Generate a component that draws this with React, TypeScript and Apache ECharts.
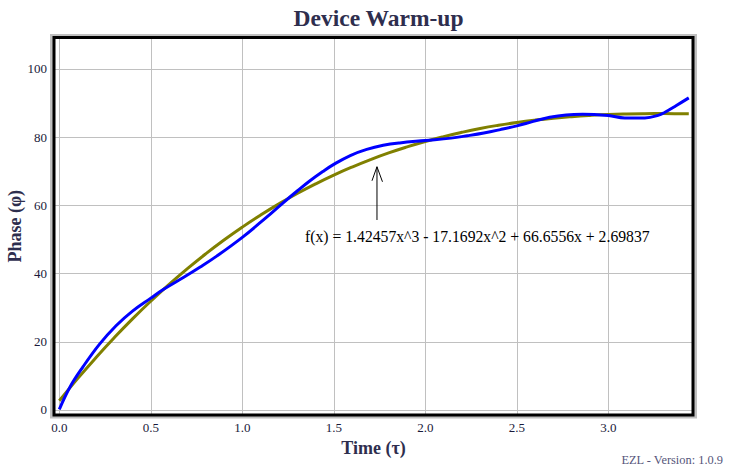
import React, { useEffect, useRef } from "react";
import * as echarts from "echarts";

const timeValues = [0.0, 0.06, 0.13, 0.22, 0.31, 0.4, 0.5, 0.57, 0.68, 0.77, 0.86, 1.0, 1.13, 1.22, 1.3, 1.37, 1.44, 1.5, 1.59, 1.68, 1.77, 1.86, 2.0, 2.14, 2.23, 2.32, 2.41, 2.5, 2.59, 2.68, 2.77, 2.86, 3.0, 3.09, 3.2, 3.28, 3.31, 3.37, 3.44];
const phaseValues = [0.2, 6.9, 12.7, 19.3, 24.7, 29.0, 32.8, 35.4, 38.9, 41.9, 45.1, 50.6, 56.4, 60.6, 64.2, 67.2, 69.9, 72.0, 74.6, 76.4, 77.6, 78.3, 79.0, 79.7, 80.4, 81.2, 82.2, 83.3, 84.6, 85.8, 86.5, 86.7, 86.3, 85.6, 85.6, 86.5, 87.3, 89.2, 91.5];

// Cubic fit curve values
const fitTime = [0.0, 0.1, 0.2, 0.3, 0.4, 0.5, 0.6, 0.7, 0.8, 0.9, 1.0, 1.1, 1.2, 1.3, 1.4, 1.5, 1.6, 1.7, 1.8, 1.9, 2.0, 2.1, 2.2, 2.3, 2.4, 2.5, 2.6, 2.7, 2.8, 2.9, 3.0, 3.1, 3.2, 3.3, 3.4, 3.44];
const fitPhase = [2.7, 9.19, 15.35, 21.19, 26.71, 31.91, 36.82, 41.43, 45.76, 49.82, 53.61, 57.14, 60.42, 63.47, 66.27, 68.86, 71.23, 73.39, 75.36, 77.13, 78.73, 80.15, 81.41, 82.52, 83.47, 84.29, 84.98, 85.55, 86.0, 86.35, 86.61, 86.77, 86.86, 86.89, 86.84, 86.81];

const xRange = [-0.029, 3.463];
const yRange = [-1.47, 109.2];
const xTickStep = 0.5;
const yTickStep = 20;

const titleText = "Device Warm-up";
const xAxisName = "Time (τ)";
const yAxisName = "Phase (φ)";
const fitLabel = "f(x) = 1.42457x^3 - 17.1692x^2 + 66.6556x + 2.69837";
const footerText = "EZL - Version: 1.0.9";
const arrowAt = [1.736, 55.7, 71.3]; // x, tail y, tip y
const labelAt = [1.343, 50.8];

const SERIF = "'Liberation Serif', 'Times New Roman', serif";
const NAVY = "#2e2e4e";

export default function App() {
  const ref = useRef<HTMLDivElement>(null);
  useEffect(() => {
    const chart = echarts.init(ref.current!, null, { renderer: "svg" });
    const G = { left: 54, top: 37.5, right: 42, bottom: 60 };
    const W = 735, H = 475;
    chart.setOption({
      animation: false,
      backgroundColor: "#ffffff",
      title: {
        text: titleText,
        left: 373.5,
        top: 1,
        textAlign: "center",
        textStyle: { fontFamily: SERIF, fontSize: 23.5, fontWeight: "bold", color: NAVY },
      },
      grid: {
        left: G.left,
        top: G.top,
        right: G.right,
        bottom: G.bottom,
        containLabel: false,
        outerBoundsMode: "none",
      },
      xAxis: {
        type: "value",
        min: xRange[0],
        max: xRange[1],
        minInterval: xTickStep,
        maxInterval: xTickStep,
        splitNumber: 7,
        name: xAxisName,
        nameLocation: "middle",
        nameGap: 24,
        nameMoveOverlap: false,
        nameTextStyle: { fontFamily: SERIF, fontSize: 18, fontWeight: "bold", color: NAVY },
        axisLine: { show: false },
        axisTick: { show: true, length: 5, lineStyle: { color: "#c0c0c0" } },
        splitLine: { show: true, lineStyle: { color: "#c0c0c0", width: 1 } },
        axisLabel: {
          showMinLabel: false,
          showMaxLabel: false,
          margin: 6,
          fontFamily: SERIF,
          fontSize: 13,
          color: "#1a1a3a",
          formatter: (v: number) => v.toFixed(1),
        },
      },
      yAxis: {
        type: "value",
        min: yRange[0],
        max: yRange[1],
        minInterval: yTickStep,
        maxInterval: yTickStep,
        splitNumber: 6,
        name: yAxisName,
        nameLocation: "middle",
        nameGap: 30,
        nameMoveOverlap: false,
        nameTextStyle: { fontFamily: SERIF, fontSize: 18, fontWeight: "bold", color: NAVY },
        axisLine: { show: false },
        axisTick: { show: true, length: 5, lineStyle: { color: "#c0c0c0" } },
        splitLine: { show: true, lineStyle: { color: "#c0c0c0", width: 1 } },
        axisLabel: {
          showMinLabel: false,
          showMaxLabel: false,
          margin: 7,
          fontFamily: SERIF,
          fontSize: 13,
          color: "#1a1a3a",
          formatter: (v: number) => String(Math.round(v)),
        },
      },
      series: [
        {
          name: "Fit",
          type: "line",
          data: fitTime.map((t, i) => [t, fitPhase[i]]),
          showSymbol: false,
          smooth: true,
          lineStyle: { color: "#808000", width: 3 },
          z: 3,
        },
        {
          name: "Phase",
          type: "line",
          data: timeValues.map((t, i) => [t, phaseValues[i]]),
          showSymbol: false,
          smooth: 0.4,
          lineStyle: { color: "#0000ff", width: 3 },
          z: 4,
        },
      ],
    });

    const tail = chart.convertToPixel({ gridIndex: 0 }, [arrowAt[0], arrowAt[1]]) as number[];
    const tip = chart.convertToPixel({ gridIndex: 0 }, [arrowAt[0], arrowAt[2]]) as number[];
    const lab = chart.convertToPixel({ gridIndex: 0 }, labelAt) as number[];
    const gw = W - G.left - G.right;
    const gh = H - G.top - G.bottom;

    chart.setOption({
      graphic: [
        {
          type: "rect",
          z: -20,
          silent: true,
          shape: { x: G.left - 4, y: G.top - 3.5, width: gw + 8, height: gh + 7 },
          style: { fill: "#c0c0c0" },
        },
        {
          type: "rect",
          z: -19,
          silent: true,
          shape: { x: G.left, y: G.top, width: gw, height: gh },
          style: { fill: "#ffffff" },
        },
        {
          type: "rect",
          z: 100,
          silent: true,
          shape: { x: G.left, y: G.top, width: gw, height: gh },
          style: { fill: "none", stroke: "#000000", lineWidth: 3 },
        },
        {
          type: "line",
          z: 50,
          shape: { x1: tail[0], y1: tail[1], x2: tip[0], y2: tip[1] },
          style: { stroke: "#000000", lineWidth: 1 },
        },
        {
          type: "polyline",
          z: 50,
          shape: { points: [[tip[0] - 5, tip[1] + 14], [tip[0], tip[1]], [tip[0] + 5.5, tip[1] + 15]] },
          style: { stroke: "#000000", lineWidth: 1, fill: "none" },
        },
        {
          type: "text",
          z: 50,
          x: lab[0],
          y: lab[1],
          style: {
            text: fitLabel,
            fontFamily: SERIF,
            fontSize: 15.7,
            fill: "#000000",
            textAlign: "left",
            textVerticalAlign: "middle",
          },
        },
        {
          type: "text",
          z: 50,
          x: 723,
          y: 459.5,
          style: {
            text: footerText,
            fontFamily: SERIF,
            fontSize: 12.4,
            fill: "#55557a",
            textAlign: "right",
            textVerticalAlign: "middle",
          },
        },
      ],
    });
    return () => chart.dispose();
  }, []);
  return (
    <div
      ref={ref}
      style={{ position: "absolute", left: 0, top: 0, width: 735, height: 475 }}
    />
  );
}
